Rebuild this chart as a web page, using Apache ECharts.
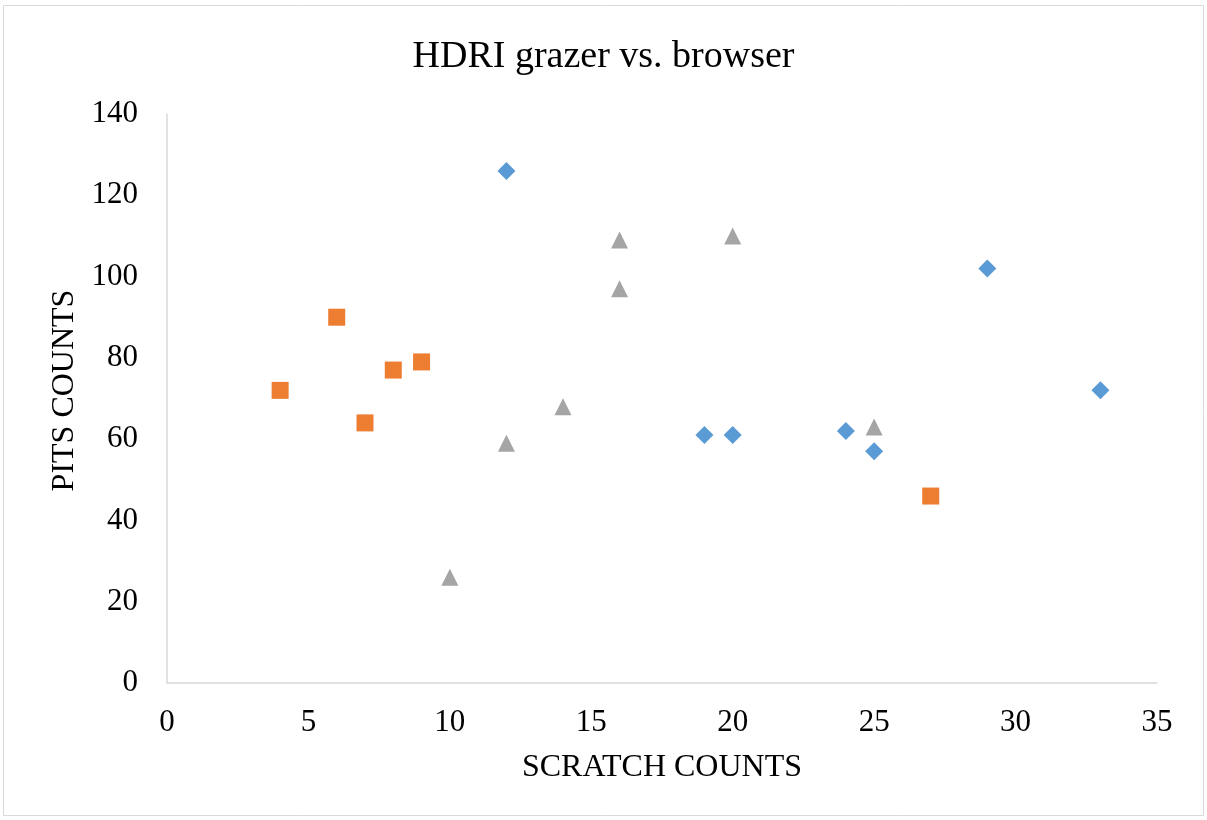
<!DOCTYPE html>
<html>
<head>
<meta charset="utf-8">
<script src="https://cdn.jsdelivr.net/npm/echarts@6/dist/echarts.min.js"></script>
<style>
  html, body { margin: 0; padding: 0; background: #fff; }
  #chart { width: 1207px; height: 820px; }
</style>
</head>
<body>
<div id="chart"></div>
<script>
// series points as [scratch, pits]
const blueScratch = [12, 29, 33, 19, 20, 24, 25]
const bluePits = [126, 102, 72, 61, 61, 62, 57]
const orangeScratch = [4, 6, 7, 8, 9, 27]
const orangePits = [72, 90, 64, 77, 79, 46]
const grayScratch = [10, 12, 14, 16, 16, 20, 25]
const grayPits = [26, 59, 68, 109, 97, 110, 63]

const xTicks = [0, 5, 10, 15, 20, 25, 30, 35]
const yTicks = [0, 20, 40, 60, 80, 100, 120, 140]

const pair = (xs, ys) => xs.map((x, i) => [x, ys[i]])
const serif = '"Liberation Serif", "Times New Roman", serif'

const chart = echarts.init(document.getElementById('chart'))
chart.setOption({
  animation: false,
  title: {
    text: 'HDRI grazer vs. browser',
    left: 'center',
    top: 33,
    textStyle: { fontFamily: serif, fontSize: 38, fontWeight: 'normal', color: '#000' }
  },
  graphic: [{
    type: 'rect',
    shape: { x: 3.5, y: 5.5, width: 1200, height: 810 },
    style: { fill: 'none', stroke: '#d9d9d9', lineWidth: 1 },
    silent: true
  }],
  grid: { left: 167, right: 50, top: 114, bottom: 137 },
  xAxis: {
    type: 'value',
    min: xTicks[0],
    max: xTicks[xTicks.length - 1],
    interval: 5,
    name: 'SCRATCH COUNTS',
    nameLocation: 'middle',
    nameGap: 69,
    nameTextStyle: { fontFamily: serif, fontSize: 32, color: '#000' },
    axisLine: { lineStyle: { color: '#d9d9d9', width: 1.5 } },
    axisTick: { show: false },
    splitLine: { show: false },
    axisLabel: { fontFamily: serif, fontSize: 31, color: '#000', margin: 24 }
  },
  yAxis: {
    type: 'value',
    min: yTicks[0],
    max: yTicks[yTicks.length - 1],
    interval: 20,
    name: 'PITS COUNTS',
    nameLocation: 'middle',
    nameGap: 82,
    // nudge the rotated name a little upward
    nameTextStyle: { fontFamily: serif, fontSize: 32, color: '#000', padding: [0, 0, 0, 16] },
    axisLine: { show: true, lineStyle: { color: '#d9d9d9', width: 1.5 } },
    axisTick: { show: false },
    splitLine: { show: false },
    axisLabel: { fontFamily: serif, fontSize: 31, color: '#000', margin: 29 }
  },
  series: [
    {
      name: 'A',
      type: 'scatter',
      symbol: 'diamond',
      symbolSize: 18,
      itemStyle: { color: '#5b9bd5', opacity: 1 },
      data: pair(blueScratch, bluePits)
    },
    {
      name: 'B',
      type: 'scatter',
      symbol: 'rect',
      symbolSize: 17,
      itemStyle: { color: '#ed7d31', opacity: 1 },
      data: pair(orangeScratch, orangePits)
    },
    {
      name: 'C',
      type: 'scatter',
      symbol: 'triangle',
      symbolSize: 17,
      itemStyle: { color: '#a5a5a5', opacity: 1 },
      data: pair(grayScratch, grayPits)
    }
  ]
})
</script>
</body>
</html>
